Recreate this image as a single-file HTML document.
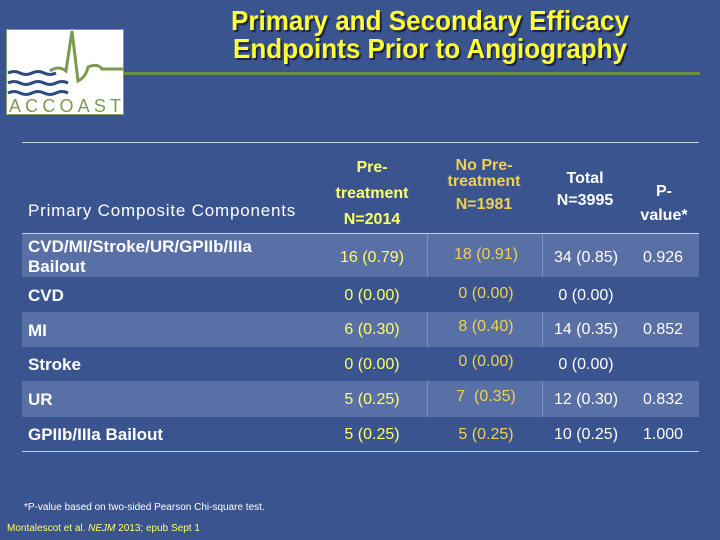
<!DOCTYPE html>
<html><head><meta charset="utf-8"><style>
body{margin:0;width:720px;height:540px;overflow:hidden;background:#3a5490;font-family:"Liberation Sans",Arial,sans-serif;}
.a{position:absolute;white-space:nowrap;}
.t{color:#ffff33;font-weight:bold;font-size:28px;text-shadow:2px 2px 1px #1a2240;left:180px;width:500px;text-align:center;line-height:28px;transform:scaleX(0.93);}
.c{text-align:center;transform:translateX(-50%);font-size:16px;}
.y{color:#ffff66}.g{color:#f0d050}.w{color:#fff}
.band{position:absolute;left:22px;width:677px;background:#5870a6;}
.vs{position:absolute;width:1px;background:#7f93bf;}
.lab{left:28px;color:#fff;font-size:17px;font-weight:bold;}
</style></head><body>
<div class="a t" style="top:7px">Primary and Secondary Efficacy<br>Endpoints Prior to Angiography</div>
<svg class="a" style="left:6px;top:29px" width="118" height="86">
<rect x="0" y="0" width="118" height="86" fill="#fff" stroke="#8aa060" stroke-width="2"/>
<g stroke="#2a4a80" stroke-width="3" fill="none">
<path d="M2 44 q6-3 12 0 t12 0 t12 0 t12 0"/><path d="M2 54 q6-3 12 0 t12 0 t12 0 t12 0 t12 0"/><path d="M2 64 q6-3 12 0 t12 0 t12 0 t12 0 t12 0"/></g>
<path d="M44 42 q8-6 16 0 l6 -40 l6 50 q8 -4 10 -14 q10 -4 14 2 l22 0" stroke="#7d9a50" stroke-width="3" fill="none"/>
<text x="59" y="83" font-size="18" fill="#7d9a50" text-anchor="middle" textLength="112" lengthAdjust="spacing" font-family="Liberation Sans">ACCOAST</text>
</svg>
<div class="a" style="left:124px;top:72px;width:576px;height:3px;background:#6a9040"></div>
<div class="a" style="left:22px;top:142px;width:677px;height:1px;background:#c8d0e8"></div>
<div class="a" style="left:22px;top:233px;width:677px;height:1px;background:#c8d0e8"></div>
<div class="band" style="top:234px;height:43px"></div>
<div class="band" style="top:312px;height:35px"></div>
<div class="band" style="top:381px;height:36px"></div>
<div class="vs" style="left:427px;top:234px;height:43px"></div><div class="vs" style="left:542px;top:234px;height:43px"></div>
<div class="vs" style="left:427px;top:312px;height:35px"></div><div class="vs" style="left:542px;top:312px;height:35px"></div>
<div class="vs" style="left:427px;top:381px;height:36px"></div><div class="vs" style="left:542px;top:381px;height:36px"></div>
<div class="a" style="left:22px;top:451px;width:677px;height:1px;background:#c8d0e8"></div>

<div class="a lab" style="top:201px;font-weight:normal;letter-spacing:0.8px">Primary Composite Components</div>
<div class="a c y" style="left:372px;top:155px;font-weight:bold;line-height:26px">Pre-<br>treatment<br>N=2014</div>
<div class="a c g" style="left:484px;top:158px;font-weight:bold;line-height:16px">No Pre-<br>treatment<br><span style="line-height:30px">N=1981</span></div>
<div class="a c w" style="left:585px;top:168px;font-weight:bold;line-height:22px">Total<br>N=3995</div>
<div class="a c w" style="left:664px;top:180px;font-weight:bold;line-height:24px">P-<br>value*</div>

<div class="a lab" style="top:237px;line-height:20px">CVD/MI/Stroke/UR/GPIIb/IIIa<br>Bailout</div>
<div class="a c y" style="left:372px;top:249px">16 (0.79)</div><div class="a c g" style="left:486px;top:246px">18 (0.91)</div><div class="a c w" style="left:586px;top:249px">34 (0.85)</div><div class="a c w" style="left:663px;top:249px">0.926</div>

<div class="a lab" style="top:286px">CVD</div>
<div class="a c y" style="left:372px;top:287px">0 (0.00)</div><div class="a c g" style="left:486px;top:285px">0 (0.00)</div><div class="a c w" style="left:586px;top:287px">0 (0.00)</div>

<div class="a lab" style="top:321px">MI</div>
<div class="a c y" style="left:372px;top:321px">6 (0.30)</div><div class="a c g" style="left:486px;top:318px">8 (0.40)</div><div class="a c w" style="left:586px;top:321px">14 (0.35)</div><div class="a c w" style="left:663px;top:321px">0.852</div>

<div class="a lab" style="top:355px">Stroke</div>
<div class="a c y" style="left:372px;top:356px">0 (0.00)</div><div class="a c g" style="left:486px;top:353px">0 (0.00)</div><div class="a c w" style="left:586px;top:356px">0 (0.00)</div>

<div class="a lab" style="top:390px">UR</div>
<div class="a c y" style="left:372px;top:391px">5 (0.25)</div><div class="a c g" style="left:486px;top:388px">7&nbsp; (0.35)</div><div class="a c w" style="left:586px;top:391px">12 (0.30)</div><div class="a c w" style="left:663px;top:391px">0.832</div>

<div class="a lab" style="top:425px">GPIIb/IIIa Bailout</div>
<div class="a c y" style="left:372px;top:426px">5 (0.25)</div><div class="a c g" style="left:486px;top:426px">5 (0.25)</div><div class="a c w" style="left:586px;top:426px">10 (0.25)</div><div class="a c w" style="left:663px;top:426px">1.000</div>

<div class="a" style="left:24px;top:502px;font-size:10px;color:#fff">*P-value based on two-sided Pearson Chi-square test.</div>
<div class="a" style="left:7px;top:523px;font-size:10px;color:#ffff66">Montalescot et al. <i>NEJM</i> 2013; epub Sept 1</div>
</body></html>
